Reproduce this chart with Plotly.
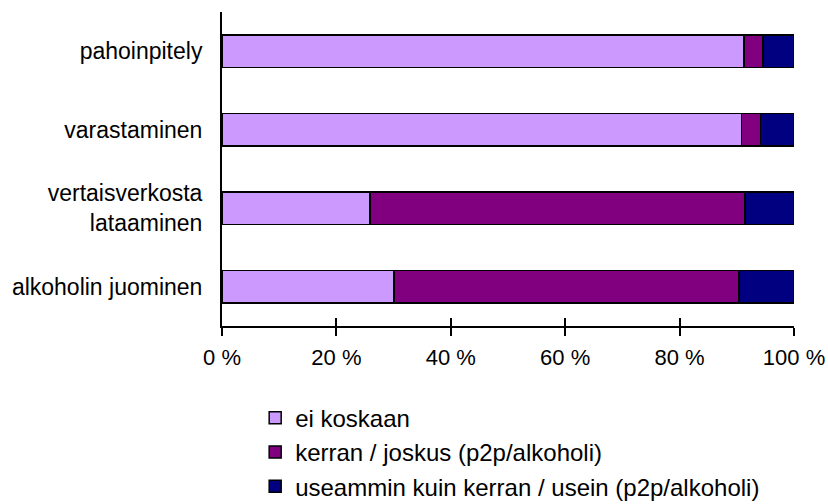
import plotly.graph_objects as go

# categories, bottom to top as drawn
categories = ["alkoholin juominen", "vertaisverkosta<br>lataaminen", "varastaminen", "pahoinpitely"]

# shares (%)
ei_koskaan = [30.1, 25.9, 90.8, 91.3]
kerran_joskus = [60.3, 65.5, 3.3, 3.3]
useammin = [9.6, 8.6, 5.9, 5.4]

series = [
    ("ei koskaan", ei_koskaan, "#CC99FF"),
    ("kerran / joskus (p2p/alkoholi)", kerran_joskus, "#800080"),
    ("useammin kuin kerran / usein (p2p/alkoholi)", useammin, "#000080"),
]

tick_vals = [0, 20, 40, 60, 80, 100]
tick_text = ["0 %", "20 %", "40 %", "60 %", "80 %", "100 %"]

fig = go.Figure()
for name, vals, color in series:
    fig.add_trace(go.Bar(
        y=categories, x=vals, name=name, orientation="h", legendgroup=name,
        marker=dict(color=color, line=dict(color="black", width=1.5)),
        width=0.42,
    ))

font = dict(family="Liberation Sans, Arial, sans-serif", size=23, color="black")
legend_font = dict(family="Liberation Sans, Arial, sans-serif", size=24, color="black")

fig.update_layout(
    barmode="stack",
    width=828, height=504,
    margin=dict(l=222, r=34, t=12, b=178, autoexpand=False),
    plot_bgcolor="white", paper_bgcolor="white",
    font=font,
    showlegend=True,
    legend=dict(
        x=0.058, y=-0.222, xanchor="left", yanchor="top",
        traceorder="grouped", font=legend_font, itemwidth=30, tracegroupgap=0,
    ),
    xaxis=dict(
        range=[0, 100], tickvals=tick_vals, ticktext=tick_text, tickfont=dict(size=22),
        showgrid=False, zeroline=False, showline=True, linecolor="black", linewidth=2,
        ticks="outside", ticklen=8, tickwidth=2, tickcolor="black", ticklabelstandoff=3,
    ),
    xaxis2=dict(
        overlaying="x", anchor="y", side="bottom", range=[0, 100], tickvals=tick_vals,
        showticklabels=False, showgrid=False, zeroline=False,
        ticks="inside", ticklen=8, tickwidth=2, tickcolor="black",
    ),
    yaxis=dict(
        range=[-0.5, 3.5], showgrid=False, zeroline=False,
        showline=True, linecolor="black", linewidth=2, ticks="", ticklabelstandoff=13,
    ),
)
# invisible trace so the second axis is drawn
fig.add_trace(go.Scatter(x=[0], y=[categories[0]], xaxis="x2", mode="markers",
                         marker=dict(opacity=0), showlegend=False, hoverinfo="skip"))

# drop the default page margin so the figure fills the window exactly
fig.write_html("out.html", config={"displayModeBar": False},
               post_script="document.body.style.margin = '0';")
